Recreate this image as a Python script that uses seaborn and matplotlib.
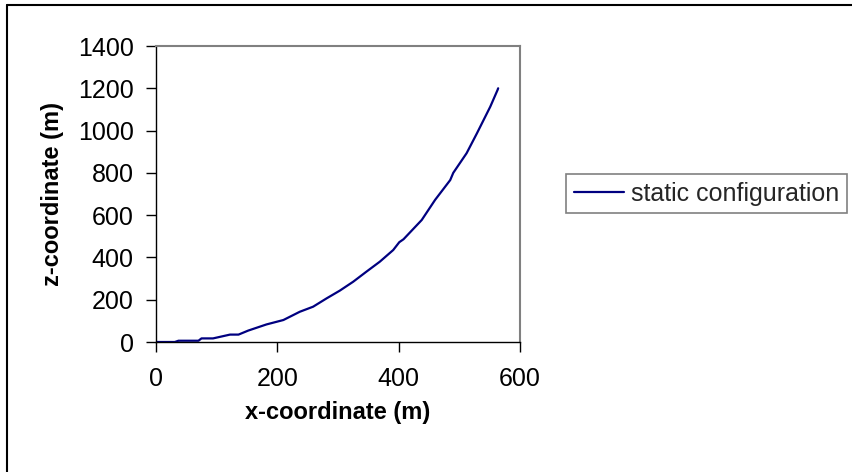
import matplotlib
matplotlib.use("Agg")
import matplotlib.pyplot as plt
from matplotlib.lines import Line2D
import seaborn as sns
import pandas as pd

# Static riser configuration: horizontal vs vertical coordinate (m)
x_coord = [0, 31, 37, 70, 75, 94, 122, 136, 152, 182, 210, 237, 259, 281, 303,
           325, 347, 369, 391, 401, 408, 438, 460, 485, 490, 512, 529, 540,
           551, 563, 564]
z_coord = [0, 0, 6, 6, 17, 17, 35, 35, 54, 83, 104, 143, 167, 206, 243,
           285, 333, 380, 435, 472, 486, 577, 672, 766, 800, 893, 987, 1050,
           1113, 1192, 1200]
series_name = "static configuration"

x_ticks = [0, 200, 400, 600]
z_ticks = [0, 200, 400, 600, 800, 1000, 1200, 1400]

df = pd.DataFrame({"x": x_coord, "z": z_coord, "series": series_name})

sns.set_theme(style="white")
plt.rcParams["font.family"] = ["Liberation Sans", "DejaVu Sans"]

W, H = 852, 472
fig = plt.figure(figsize=(W / 100, H / 100), dpi=100)
fig.patch.set_facecolor("white")

ax = fig.add_axes([156 / W, (H - 342) / H, 364 / W, 296 / H])
sns.lineplot(data=df, x="x", y="z", hue="series", palette=["#000080"],
             linewidth=1.6, sort=False, ax=ax, legend=False)

ax.set_xlim(0, 600)
ax.set_ylim(0, 1400)
ax.set_xticks(x_ticks)
ax.set_yticks(z_ticks)
ax.tick_params(axis="both", direction="out", length=7, width=1,
               color="black", labelsize=18, labelcolor="black")
ax.tick_params(axis="y", pad=9)
ax.tick_params(axis="x", pad=11)
ax.tick_params(left=True, bottom=True)

for side in ("left", "bottom"):
    ax.spines[side].set_color("black")
    ax.spines[side].set_linewidth(1.0)
for side in ("top", "right"):
    ax.spines[side].set_color("#808080")
    ax.spines[side].set_linewidth(1.5)

ax.set_xlabel("x-coordinate (m)", fontsize=17, fontweight="bold",
              color="black", labelpad=7)
ax.set_ylabel("z-coordinate (m)", fontsize=17, fontweight="bold",
              color="black", labelpad=10)

handle = Line2D([], [], color="#000080", linewidth=1.6)
leg = fig.legend([handle], [series_name], loc="upper left",
                 bbox_to_anchor=(566 / W, 1 - 174 / H), fontsize=18,
                 frameon=True, fancybox=False, framealpha=1,
                 edgecolor="#808080", handlelength=2.0, handletextpad=0.3,
                 borderpad=0.3, borderaxespad=0)
leg.get_frame().set_linewidth(1.2)

# Chart border (left and top edges)
fig.add_artist(Line2D([7 / W, 7 / W], [0, 1 - 5 / H], color="black",
                      linewidth=1.5, transform=fig.transFigure))
fig.add_artist(Line2D([7 / W, 1], [1 - 5 / H, 1 - 5 / H], color="black",
                      linewidth=1.5, transform=fig.transFigure))

fig.savefig("out.png", dpi=100, facecolor="white")
